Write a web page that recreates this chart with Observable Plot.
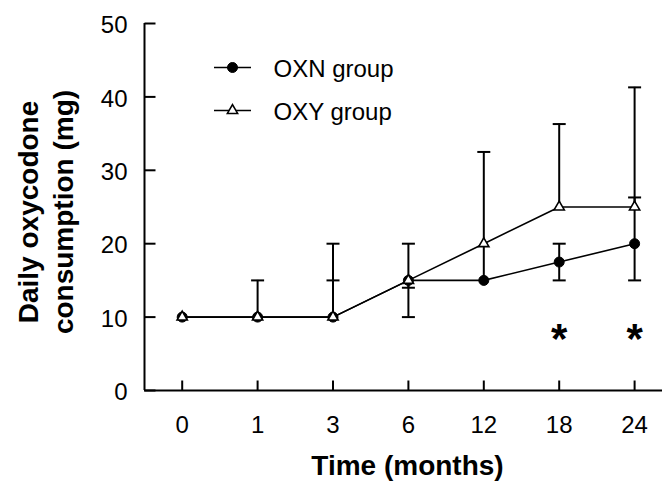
<!DOCTYPE html>
<html>
<head>
<meta charset="utf-8">
<script src="https://cdn.jsdelivr.net/npm/d3@7"></script>
<script src="https://cdn.jsdelivr.net/npm/@observablehq/plot@0.6"></script>
<style>
  html, body { margin: 0; padding: 0; background: #fff; }
  #chart svg { display: block; }
</style>
</head>
<body>
<div id="chart"></div>
<script>
// ---- data ----
const months = ["0", "1", "3", "6", "12", "18", "24"];
const oxnMedian = [10, 10, 10, 15, 15, 17.5, 20];
const oxnLow    = [10, 10, 10, 10, 15, 15, 15];
const oxnHigh   = [10, 10, 15, 20, 15, 20, 26.3];
const oxyMedian = [10, 10, 10, 15, 20, 25, 25];
const oxyLow    = [10, 10, 10, 14, 15, 25, 25];
const oxyHigh   = [10, 15, 20, 15, 32.5, 36.3, 41.3];
const significantMonths = ["18", "24"];
const yTicks = [0, 10, 20, 30, 40, 50];
const groups = ["OXN group", "OXY group"];
const xTitle = "Time (months)";
const yTitle = "Daily oxycodone\nconsumption (mg)";

// ---- derived tables ----
const rows = months.map((m, i) => ({
  i, m,
  oxn: oxnMedian[i], oxnLo: oxnLow[i], oxnHi: oxnHigh[i],
  oxy: oxyMedian[i], oxyLo: oxyLow[i], oxyHi: oxyHigh[i]
}));
const bars = [];
for (const r of rows) {
  bars.push({i: r.i, lo: r.oxnLo, hi: r.oxnHi, own: r.oxn, other: r.oxy});
  bars.push({i: r.i, lo: r.oxyLo, hi: r.oxyHi, own: r.oxy, other: r.oxn});
}
const caps = [];
for (const b of bars) {
  for (const v of [b.lo, b.hi]) {
    if (v !== b.own && v !== b.other) caps.push({i: b.i, v});
  }
}
const sigIdx = significantMonths.map(m => months.indexOf(m));

// ---- custom symbols (styling only) ----
const capSym = {draw(c) { c.moveTo(-6.5, 0); c.lineTo(6.5, 0); }};
const xTickSym = {draw(c) { c.moveTo(0, 0); c.lineTo(0, -10); }};
const yTickSym = {draw(c) { c.moveTo(0, 0); c.lineTo(11, 0); }};
const legendLineSym = {draw(c) { c.moveTo(-18.5, 0); c.lineTo(18.5, 0); }};

const font = "'Liberation Sans', Arial, Helvetica, sans-serif";

const chart = Plot.plot({
  width: 662,
  height: 481,
  marginLeft: 144,
  marginRight: 0,
  marginTop: 23,
  marginBottom: 91,
  style: {fontFamily: font, fontSize: "24px", color: "black", background: "white"},
  x: {type: "linear", domain: [-0.5, 6.37], axis: null},
  y: {domain: [0, 50], axis: null},
  marks: [
    // axes lines
    Plot.ruleY([0], {stroke: "black", strokeWidth: 2}),
    Plot.ruleX([-0.5], {stroke: "black", strokeWidth: 2}),
    // inward ticks
    Plot.dot(rows, {x: "i", frameAnchor: "bottom", symbol: xTickSym, stroke: "black", strokeWidth: 2, fill: "none"}),
    Plot.dot(yTicks, {y: d => d, frameAnchor: "left", symbol: yTickSym, stroke: "black", strokeWidth: 2, fill: "none"}),
    // tick labels
    Plot.axisX(rows.map(r => r.i), {tickSize: 0, tickPadding: 25, fontSize: 24, tickFormat: i => months[i], label: null}),
    Plot.axisY(yTicks, {tickSize: 0, tickPadding: 17, fontSize: 24, dy: 2, label: null}),
    // axis titles
    Plot.text([xTitle], {frameAnchor: "bottom", textAnchor: "middle", lineAnchor: "top", dx: 4, dy: 65, fontSize: 28, fontWeight: "bold"}),
    Plot.text([yTitle], {frameAnchor: "left", rotate: -90, textAnchor: "middle", lineAnchor: "top", lineHeight: 1.25, dx: -131, dy: 5, fontSize: 28, fontWeight: "bold"}),
    // error bars
    Plot.ruleX(bars, {x: "i", y1: "lo", y2: "hi", stroke: "black", strokeWidth: 2}),
    Plot.dot(caps, {x: "i", y: "v", symbol: capSym, stroke: "black", strokeWidth: 2, fill: "none"}),
    // lines
    Plot.line(rows, {x: "i", y: "oxn", stroke: "black", strokeWidth: 1.6}),
    Plot.line(rows, {x: "i", y: "oxy", stroke: "black", strokeWidth: 1.6}),
    // markers
    Plot.dot(rows, {x: "i", y: "oxn", r: 5, fill: "black", stroke: "black", strokeWidth: 1}),
    Plot.dot(rows, {x: "i", y: "oxy", r: 3.8, symbol: "triangle", fill: "white", stroke: "black", strokeWidth: 1.6}),
    // significance asterisks
    Plot.text(sigIdx, {x: d => d, frameAnchor: "bottom", textAnchor: "middle", lineAnchor: "bottom", text: () => "*", dy: -38, fontSize: 42, fontWeight: "bold"}),
    // legend
    Plot.dot([groups[0]], {frameAnchor: "top-left", dx: 88, dy: 44, symbol: legendLineSym, stroke: "black", strokeWidth: 1.6, fill: "none"}),
    Plot.dot([groups[0]], {frameAnchor: "top-left", dx: 88, dy: 44, r: 5, fill: "black", stroke: "black", strokeWidth: 1}),
    Plot.text([groups[0]], {frameAnchor: "top-left", dx: 129, dy: 46, textAnchor: "start", lineAnchor: "middle", fontSize: 24}),
    Plot.dot([groups[1]], {frameAnchor: "top-left", dx: 88, dy: 87, symbol: legendLineSym, stroke: "black", strokeWidth: 1.6, fill: "none"}),
    Plot.dot([groups[1]], {frameAnchor: "top-left", dx: 88, dy: 87, r: 3.8, symbol: "triangle", fill: "white", stroke: "black", strokeWidth: 1.6}),
    Plot.text([groups[1]], {frameAnchor: "top-left", dx: 129, dy: 89, textAnchor: "start", lineAnchor: "middle", fontSize: 24})
  ]
});
document.getElementById("chart").appendChild(chart);
</script>
</body>
</html>
